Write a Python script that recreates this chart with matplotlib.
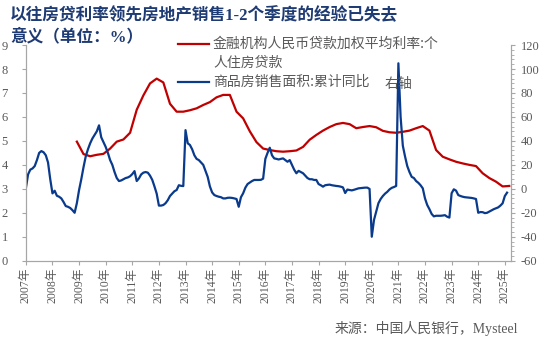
import matplotlib
matplotlib.use("Agg")
import matplotlib.pyplot as plt
from matplotlib.lines import Line2D
from matplotlib.ticker import MultipleLocator
import numpy as np

# 个人住房贷款加权平均利率（%，季度，2008-12 起）
rate_start = 2008 + 11 / 12
mortgage_rate = [
    4.97,
    4.45, 4.36, 4.42, 4.46,
    4.68, 4.97, 5.06, 5.34,
    6.30, 6.90, 7.40, 7.60,
    7.44, 6.55, 6.22, 6.22,
    6.28, 6.36, 6.50, 6.62,
    6.82, 6.92, 6.92, 6.22,
    5.94, 5.40, 4.95, 4.68,
    4.62, 4.57, 4.55, 4.57,
    4.60, 4.75, 5.05, 5.25,
    5.43, 5.58, 5.70, 5.75,
    5.70, 5.53, 5.58, 5.62,
    5.57, 5.42, 5.36, 5.34,
    5.38, 5.43, 5.53, 5.62,
    5.43, 4.62, 4.34, 4.23,
    4.13, 4.06, 4.00, 3.95,
    3.65, 3.45, 3.30, 3.10,
    3.12,
]

# 商品房销售面积累计同比（%，月度，2007-01 起）
sales_start = 2007
sales_yoy = [
    0.4, 12, 16, 17, 19, 24, 30, 31.5, 30.5, 28, 22, 8,                      # 2007
    -3.8, -1.6, -5.8, -6.6, -8, -11, -14.4, -15, -16, -17.8, -20, -12,       # 2008
    -1, 8, 18, 27, 33, 38, 42, 45, 48, 53, 43, 39,                          # 2009
    35, 30, 24, 20, 14, 9, 6.5, 7, 8, 9, 9.5, 10.5,                         # 2010
    12.3, 14.8, 6.5, 8.7, 12, 13.5, 14, 13.5, 11, 7.5, 2, -4,               # 2011
    -14, -14, -13.5, -12, -9.5, -6, -4, -2, -1, 3, 2.5, 2.3,                # 2012
    49, 38, 36.6, 33, 28, 25, 24, 22, 20, 15, 10, 2,                        # 2013
    -3, -5.2, -6, -6.6, -7, -8, -8, -7.5, -7.4, -7.6, -8, -8.5,             # 2014
    -15, -7, -3.7, 1, 4, 5.2, 6.5, 7.4, 7.4, 7.4, 7.5, 8.5,                 # 2015
    25, 30, 34.3, 28, 25.4, 25, 24.5, 25, 25.4, 24, 22.6, 24,               # 2016
    20, 16, 13, 15, 14, 13, 11, 9, 8, 8, 7.4, 7.4,                          # 2017
    4, 3, 1.8, 3, 3.3, 3.5, 3, 2.7, 2.4, 2.2, 1.8, 1.2,                     # 2018
    -3.5, -0.6, -1, -1.3, -0.8, -0.2, 0.4, 0.6, 0.8, 1.0, 1.0, -0.1,        # 2019
    -40, -26, -19, -12, -8.5, -6, -4, -2.5, -0.5, 0.8, 1.5, 2.4,            # 2020
    104.8, 60, 36, 27, 19, 14, 10, 9, 6.5, 5, 3, 0.4,                       # 2021
    -8, -13.5, -17, -21, -23, -22.5, -22.5, -22.5, -22.3, -22, -23.3, -24,  # 2022
    -3.7, -0.4, -1.5, -5.2, -6, -6.6, -7, -7.2, -7.4, -7.6, -8, -8.5,       # 2023
    -20, -19.4, -19.5, -20.3, -20, -19, -18, -17, -16.2, -15.5, -14, -12.1, # 2024
    -6, -3.2,                                                               # 2025
]

years = list(range(2007, 2026))
year_labels = [f"{y}年" for y in years]

rate_label = "金融机构人民币贷款加权平均利率:个"
rate_label2 = "人住房贷款"
sales_label = "商品房销售面积:累计同比"

RED = "#C00000"
BLUE = "#0A3A8C"
GREY = "#595959"
AXIS = "#A6A6A6"
NUM_FONT = ["Liberation Serif", "Noto Sans CJK SC"]
CJK_FONT = ["Noto Sans CJK SC", "DejaVu Sans"]

plt.rcParams["font.family"] = CJK_FONT

fig = plt.figure(figsize=(5.5, 3.39), dpi=100)
ax = fig.add_axes([0.047, 0.231, 0.882, 0.636])
ax2 = ax.twinx()

rate_x = rate_start + 0.25 * np.arange(len(mortgage_rate))
sales_x = sales_start + np.arange(len(sales_yoy)) / 12

ax.plot(rate_x, mortgage_rate, color=RED, lw=1.6)
ax2.plot(sales_x, sales_yoy, color=BLUE, lw=1.6)

ax.set_xlim(2007, 2025.23)
ax.set_ylim(0, 9)
ax2.set_ylim(-60, 120)

ax.set_xticks(years)
ax.set_xticklabels(year_labels, rotation=90, family=NUM_FONT, fontsize=8.5, color=GREY)
ax.set_yticks(range(0, 10))
ax.set_yticklabels([str(v) for v in range(0, 10)], family=NUM_FONT, fontsize=9, color=GREY)
ax2.set_yticks(range(-60, 121, 20))
ax2.set_yticklabels([str(v) for v in range(-60, 121, 20)], family=NUM_FONT, fontsize=9, color=GREY)
ax2.yaxis.set_minor_locator(MultipleLocator(4))

for a in (ax, ax2):
    a.tick_params(direction="out", length=3, width=0.8, color=AXIS, pad=2)
    a.tick_params(which="minor", direction="out", length=2, width=0.6, color=AXIS)
    for side in ("left", "right", "bottom"):
        a.spines[side].set_color(AXIS)
        a.spines[side].set_linewidth(0.8)
    a.spines["top"].set_visible(False)
ax.tick_params(axis="y", pad=10)
ax2.tick_params(axis="y", pad=4)

# 标题
fig.text(0.018, 0.955, "以往房贷利率领先房地产销售1-2个季度的经验已失去",
         family=NUM_FONT, fontsize=12, fontweight="bold", color="#1F3B73", va="center")
fig.text(0.018, 0.89, "意义（单位：%）",
         family=NUM_FONT, fontsize=12, fontweight="bold", color="#1F3B73", va="center")

# 图例
fig.add_artist(Line2D([178 / 550, 209 / 550], [1 - 44 / 339] * 2, color=RED, lw=1.6))
fig.add_artist(Line2D([178 / 550, 209 / 550], [1 - 82 / 339] * 2, color=BLUE, lw=1.6))
fig.text(213 / 550, 1 - 44 / 339, rate_label, fontsize=10, color=GREY, va="center")
fig.text(213 / 550, 1 - 63 / 339, rate_label2, fontsize=10, color=GREY, va="center")
fig.text(213 / 550, 1 - 82 / 339, sales_label, fontsize=10, color=GREY, va="center")
fig.text(385 / 550, 1 - 84 / 339, "右轴", fontsize=10, color=GREY, va="center")

fig.text(518 / 550, 1 - 329 / 339, "来源：中国人民银行，Mysteel",
         family=NUM_FONT, fontsize=10, color=GREY, ha="right", va="center")

fig.savefig("out.png", dpi=100, facecolor="white")
